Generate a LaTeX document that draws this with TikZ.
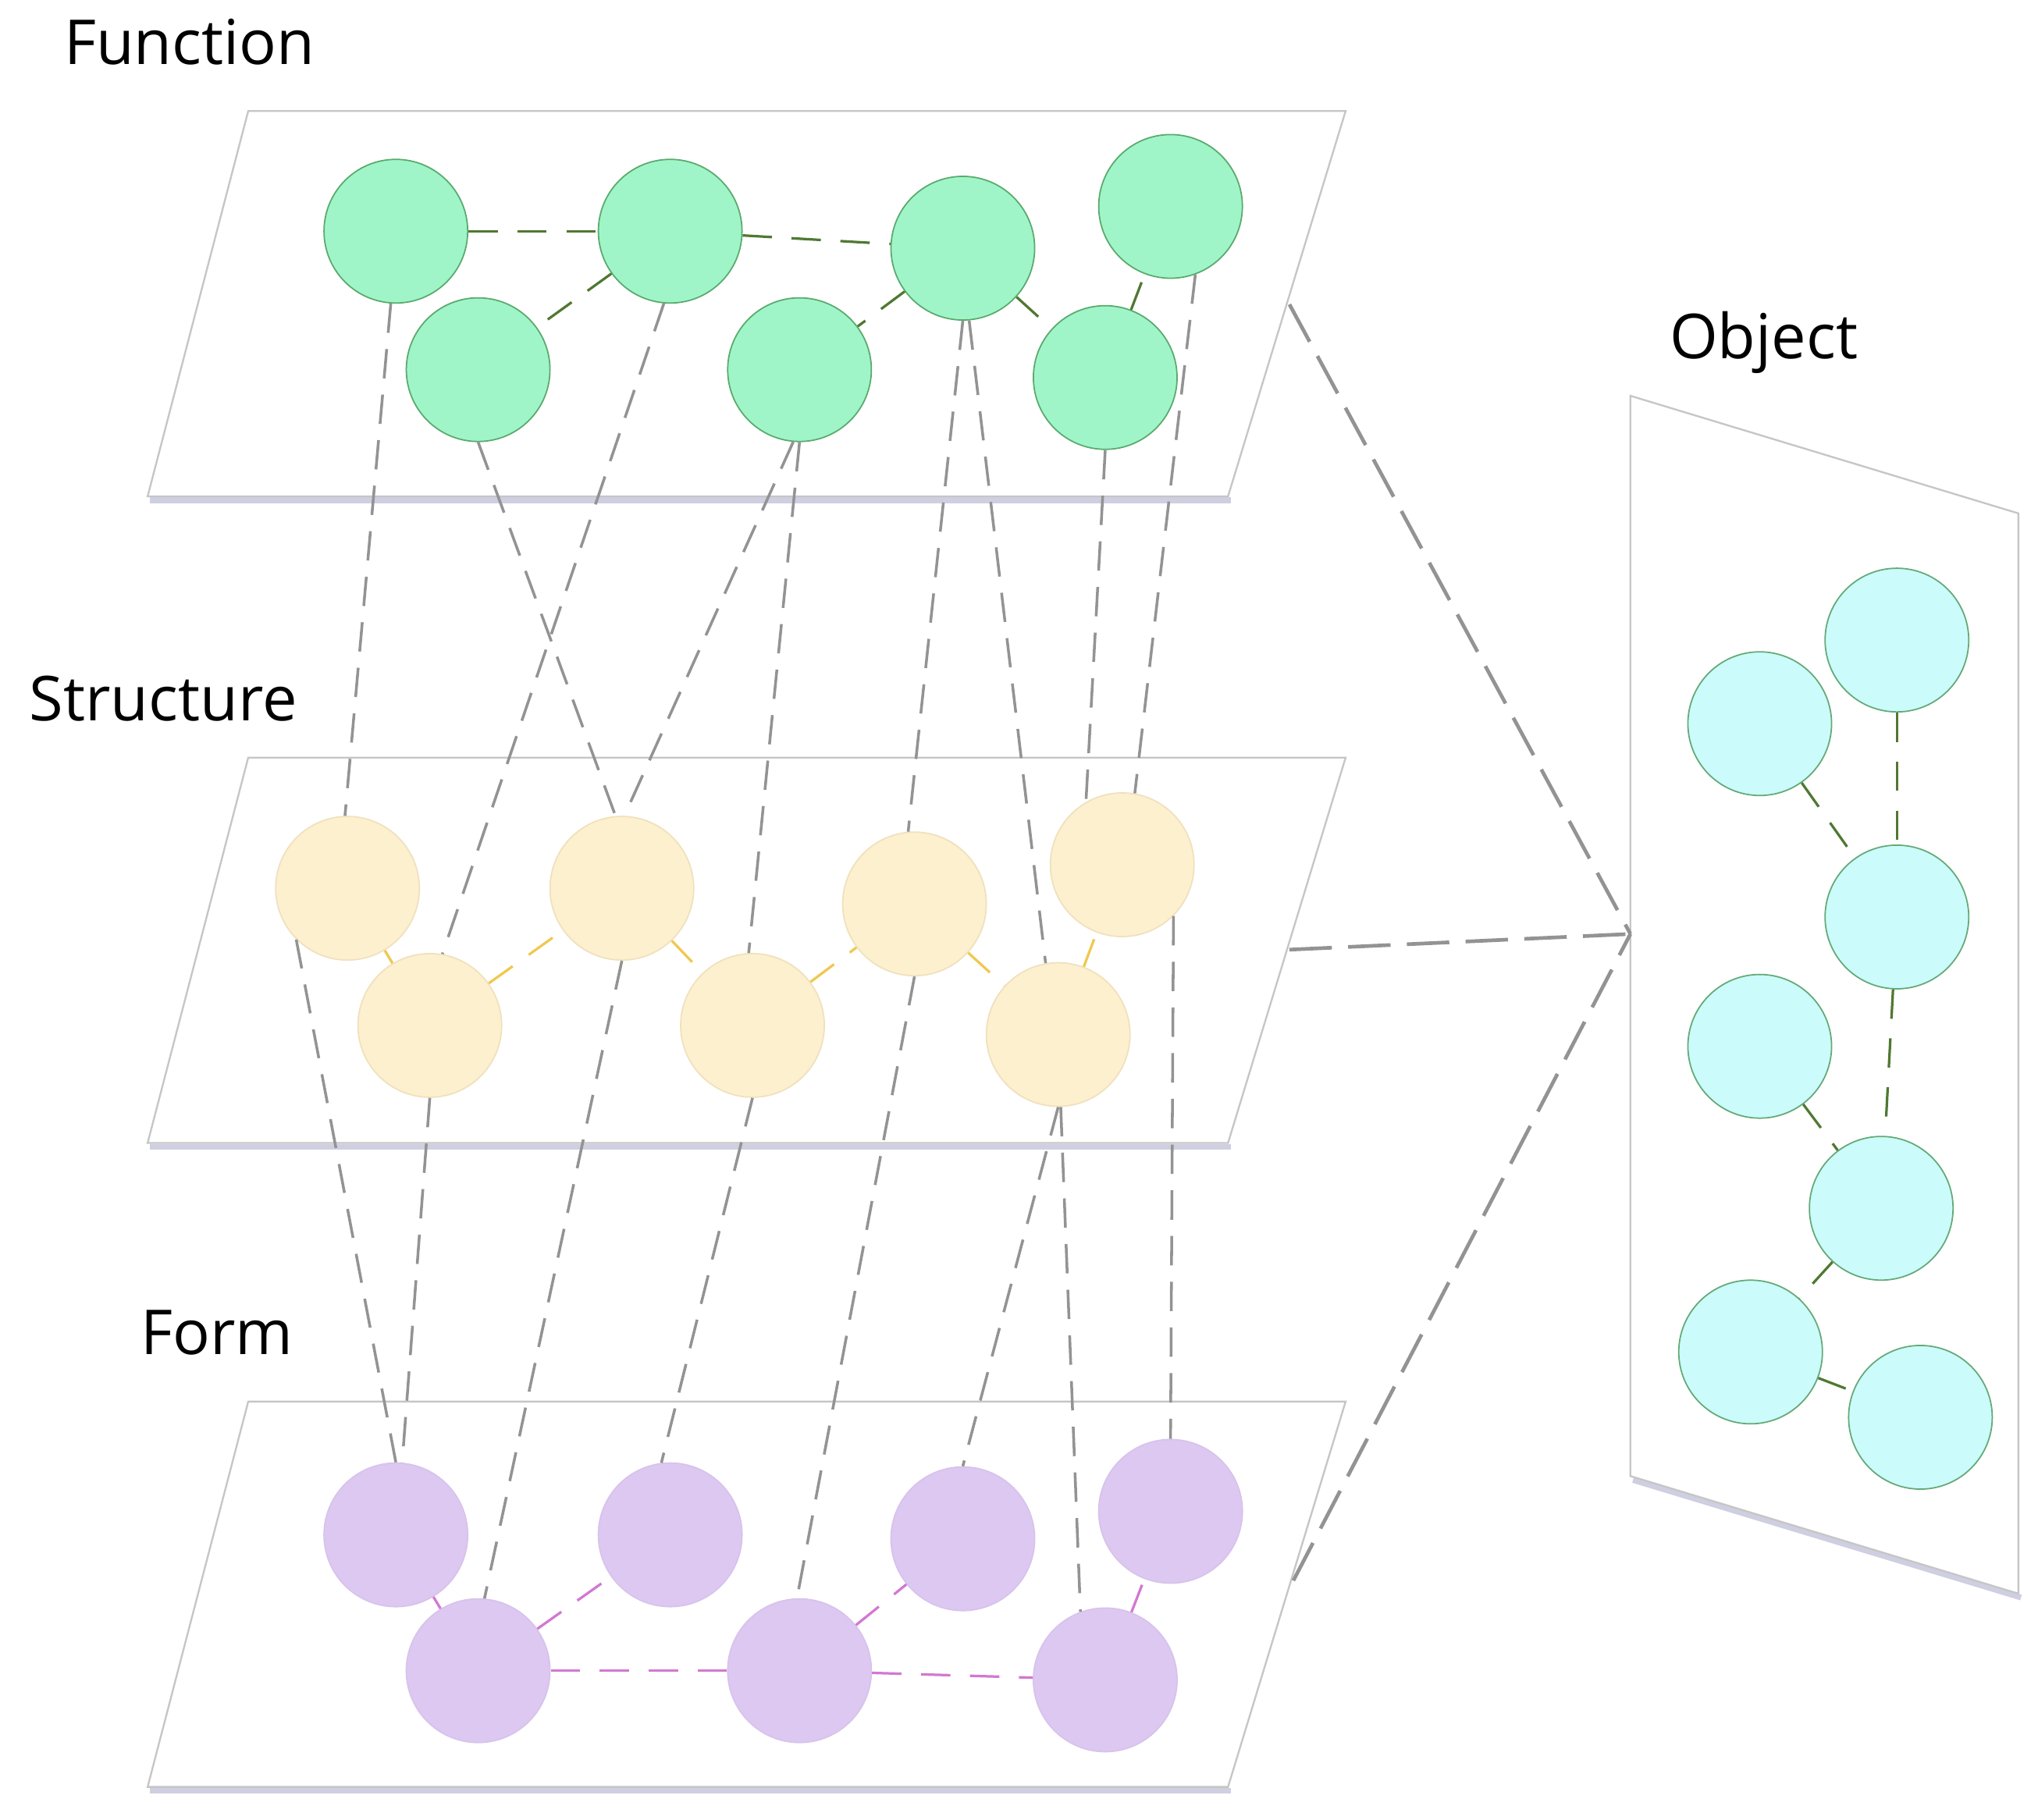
\documentclass[tikz,border=0pt]{standalone}
\usepackage{fontspec}
\setmainfont{Open Sans}
\begin{document}
\begin{tikzpicture}[x=0.02cm,y=-0.02cm,
 plane/.style={draw=gray!45,fill=white,line width=0.8pt},
 shadow/.style={draw=blue!25!gray!30,line width=2.5pt},
 cir/.style={circle,minimum size=2.2cm,inner sep=0pt,line width=0.6pt},
 fn/.style={cir,fill=green!35!cyan!30!white,fill={rgb,255:red,160;green,245;blue,200},draw={rgb,255:red,90;green,170;blue,110}},
 st/.style={cir,fill={rgb,255:red,253;green,240;blue,206},draw={rgb,255:red,240;green,225;blue,190}},
 fo/.style={cir,fill={rgb,255:red,220;green,200;blue,240},draw={rgb,255:red,215;green,195;blue,235}},
 ob/.style={cir,fill={rgb,255:red,204;green,251;blue,251},draw={rgb,255:red,100;green,170;blue,120}},
 ge/.style={draw={rgb,255:red,80;green,120;blue,50},dash pattern=on 0.45cm off 0.3cm,line width=1.1pt},
 ye/.style={draw={rgb,255:red,240;green,200;blue,80},dash pattern=on 0.45cm off 0.3cm,line width=1.1pt},
 pe/.style={draw={rgb,255:red,210;green,120;blue,210},dash pattern=on 0.45cm off 0.3cm,line width=1.1pt},
 gr/.style={draw=gray!85,dash pattern=on 0.45cm off 0.25cm,line width=1.2pt},
 big/.style={draw=gray!85,dash pattern=on 0.65cm off 0.25cm,line width=1.6pt},
 lab/.style={font=\fontsize{27}{32}\selectfont}]
\useasboundingbox (0,0) rectangle (1560,1393);
% planes
\foreach \y in {0,495,988}{
 \draw[shadow] (115,383+\y) -- (942,383+\y);
 \draw[plane] (190,85+\y) -- (1030,85+\y) -- (940,380+\y) -- (113,380+\y) -- cycle;}
\draw[shadow] (1250,1133) -- (1547,1223);
\draw[plane] (1248,303) -- (1545,393) -- (1545,1220) -- (1248,1130) -- cycle;
% labels
\node[lab] (lf) at (145,32) {Function};
\node[lab] (ls) at (125,535) {Structure};
\node[lab] (lm) at (166,1020) {Form};
\node[lab] (lo) at (1350,262) {Object};
% function
\node[fn] (F1) at (303,177) {}; \node[fn] (F2) at (513,177) {}; \node[fn] (F3) at (737,190) {};
\node[fn] (F4) at (896,158) {}; \node[fn] (F5) at (366,283) {}; \node[fn] (F6) at (612,283) {};
\node[fn] (F7) at (846,289) {};
\draw[ge] (F1)--(F2); \draw[ge] (F2)--(F5); \draw[ge] (F2)--(F3); \draw[ge] (F3)--(F6);
\draw[ge] (F3)--(F7); \draw[ge] (F7)--(F4);
% structure
\node[st] (S1) at (266,680) {}; \node[st] (S2) at (476,680) {}; \node[st] (S3) at (700,692) {};
\node[st] (S4) at (859,662) {}; \node[st] (S5) at (329,785) {}; \node[st] (S6) at (576,785) {};
\node[st] (S7) at (810,792) {};
\draw[ye] (S1)--(S5); \draw[ye] (S5)--(S2); \draw[ye] (S2)--(S6); \draw[ye] (S6)--(S3);
\draw[ye] (S3)--(S7); \draw[ye] (S7)--(S4);
% form
\node[fo] (M1) at (303,1175) {}; \node[fo] (M2) at (513,1175) {}; \node[fo] (M3) at (737,1178) {};
\node[fo] (M4) at (896,1157) {}; \node[fo] (M5) at (366,1279) {}; \node[fo] (M6) at (612,1279) {};
\node[fo] (M7) at (846,1286) {};
\draw[pe] (M1)--(M5); \draw[pe] (M5)--(M2); \draw[pe] (M5)--(M6); \draw[pe] (M6)--(M3);
\draw[pe] (M6)--(M7); \draw[pe] (M7)--(M4);
% object
\node[ob] (O1) at (1452,490) {}; \node[ob] (O2) at (1347,554) {}; \node[ob] (O3) at (1452,702) {};
\node[ob] (O4) at (1347,801) {}; \node[ob] (O5) at (1440,925) {}; \node[ob] (O6) at (1340,1035) {};
\node[ob] (O7) at (1470,1085) {};
\draw[ge] (O1)--(O3); \draw[ge] (O2)--(O3); \draw[ge] (O3)--(O5); \draw[ge] (O4)--(O5);
\draw[ge] (O5)--(O6); \draw[ge] (O6)--(O7);
% inter-layer
\draw[gr] (F1.266)--(S1.92); \draw[gr] (F2.265)--(S5.80); \draw[gr] (F5.270)--(S2.95);
\draw[gr] (F6.265)--(S2.88); \draw[gr] (F6.270)--(S6.93); \draw[gr] (F3.270)--(S3.95);
\draw[gr] (F3.275)--(S7.100); \draw[gr] (F7.270)--(S4.120); \draw[gr] (F4.290)--(S4.80);
\draw[gr] (S1.225)--(M1.90); \draw[gr] (S5.270)--(M1.85); \draw[gr] (S2.270)--(M5.85);
\draw[gr] (S6.270)--(M2.97); \draw[gr] (S3.270)--(M6.92); \draw[gr] (S7.270)--(M3.90);
\draw[gr] (S7.272)--(M7.110); \draw[gr] (S4.315)--(M4.90);
% object links
\coordinate (P) at (1248,715);
\coordinate (a1) at (987,233); \coordinate (a2) at (987,727); \coordinate (a3) at (990,1210);
\draw[big] (a1)--(P); \draw[big] (a2)--(P); \draw[big] (a3)--(P);
\end{tikzpicture}
\end{document}
